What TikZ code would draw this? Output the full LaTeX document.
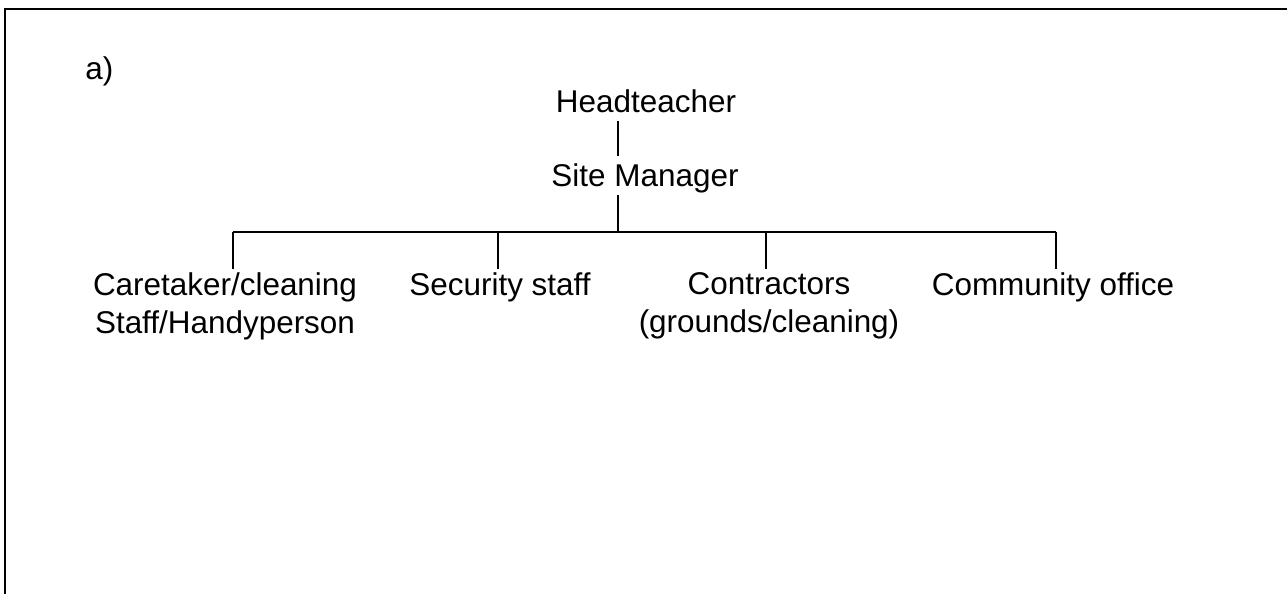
\documentclass[tikz,border=0pt]{standalone}
\usepackage{fontspec}
\setmainfont{Liberation Sans}
\usetikzlibrary{calc}

\begin{document}
\begin{tikzpicture}[x=0.02cm, y=-0.02cm]
  \tikzset{
    post/.style={font=\fontsize{17.9}{21.6}\selectfont, align=center, inner xsep=0pt},
    boss/.style={post, anchor=base, text height=0.46cm, text depth=0pt, inner ysep=0.15cm},
    staff/.style={post, anchor=north, inner ysep=0.06cm},
    link/.style={line width=1.1pt}
  }
  \useasboundingbox (0,0) rectangle (1287,594);
  \draw[link] (5,594) -- (5,9) -- (1287,9);

  \node[post, anchor=base west] (lbl) at (85,80) {a)};
  \node[boss] (head) at (646,113) {Headteacher};
  \node[boss] (site) at (645,187) {Site Manager};

  \coordinate (b0) at (618,232);
  \coordinate (b1) at (233,232);
  \coordinate (b2) at (498,232);
  \coordinate (b3) at (766,232);
  \coordinate (b4) at (1056,232);

  \node[staff] (care) at (225,269) {Caretaker/cleaning\\Staff/Handyperson};
  \node[staff] (sec) at (500,269) {Security staff};
  \node[staff] (contr) at (769,269) {Contractors\\(grounds/cleaning)};
  \node[staff] (comm) at (1053,269) {Community office};

  \draw[link] (head.south -| b0) -- (site.north -| b0);
  \draw[link] (site.south -| b0) -- (b0);
  \draw[link] (b1) -- (b4);
  \foreach \b/\n in {b1/care, b2/sec, b3/contr, b4/comm}
    \draw[link] (\b) -- (\b |- \n.north);
\end{tikzpicture}
\end{document}
